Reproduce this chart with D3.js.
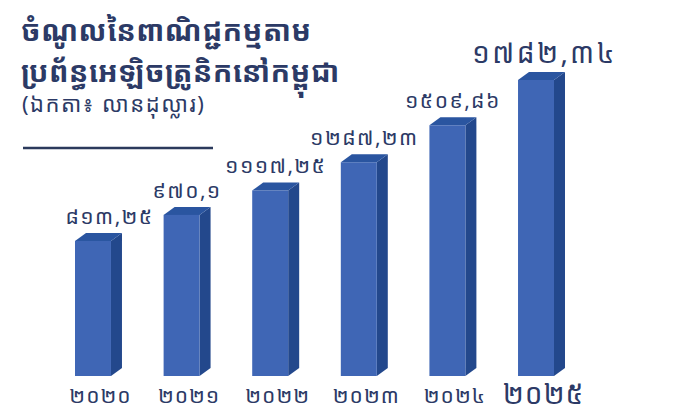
<!DOCTYPE html>
<html><head><meta charset="utf-8">
<script src="https://cdn.jsdelivr.net/npm/d3@7"></script>
<style>
html,body{margin:0;padding:0;background:#fff;}
svg{display:block;font-family:"Noto Sans Khmer","Khmer OS","Khmer OS System","Leelawadee UI",sans-serif;}
</style></head><body>
<svg id="c" width="686" height="412"></svg>
<script>
const years = ["២០២០","២០២១","២០២២","២០២៣","២០២៤","២០២៥"];
const values = [813.25, 970.1, 1117.25, 1287.23, 1509.86, 1782.34];
const valueLabels = ["៨១៣,២៥","៩៧០,១","១១១៧,២៥","១២៨៧,២៣","១៥០៩,៨៦","១៧៨២,៣៤"];
const titleLines = ["ចំណូលនៃពាណិជ្ជកម្មតាម","ប្រព័ន្ធអេឡិចត្រូនិកនៅកម្ពុជា"];
const unitLabel = "(ឯកតា៖ លានដុល្លារ)";

const svg = d3.select("#c");
const navy = "#2c3a66";
const x = d3.scaleBand().domain(years).range([75, 554]).paddingInner(0.594).paddingOuter(0);
const y = d3.scaleLinear().domain([0, 1782.34]).range([376, 80]);
const dx = 11, dy = 8;

const g = svg.append("g");
const bars = g.selectAll("g.bar").data(values).enter().append("g");
bars.append("path").attr("fill", "#23488c").attr("d", (d,i) => {
  const x0 = x(years[i]) + x.bandwidth(), yt = y(d), yb = y(0);
  return `M${x0},${yt}L${x0+dx},${yt-dy}L${x0+dx},${yb-dy}L${x0},${yb}Z`;
});
bars.append("path").attr("fill", "#2a55a0").attr("d", (d,i) => {
  const x0 = x(years[i]), x1 = x0 + x.bandwidth(), yt = y(d);
  return `M${x0},${yt}L${x0+dx},${yt-dy}L${x1+dx},${yt-dy}L${x1},${yt}Z`;
});
bars.append("rect").attr("fill", "#3f66b5")
  .attr("x", (d,i) => x(years[i])).attr("width", x.bandwidth())
  .attr("y", d => y(d)).attr("height", d => y(0) - y(d));

g.selectAll("text.val").data(values).enter().append("text")
  .attr("class","val")
  .attr("x", (d,i) => x(years[i]) + (x.bandwidth()+dx)/2 + (i===0?11:0) + (i===5?3:0))
  .attr("y", (d,i) => y(d) - dy - 9)
  .attr("text-anchor","middle").attr("fill", navy)
  .attr("font-size", (d,i) => i===5 ? 28 : 21)
  .attr("letter-spacing", (d,i) => i===5 ? 2.5 : 1.5)
  .text((d,i) => valueLabels[i]);

g.selectAll("text.yr").data(years).enter().append("text")
  .attr("x", d => x(d) + (x.bandwidth()+dx)/2 + 2)
  .attr("y", (d,i) => i===5 ? 404 : 403)
  .attr("text-anchor","middle").attr("fill", navy)
  .attr("font-size", (d,i) => i===5 ? 28 : 21)
  .attr("letter-spacing", 1)
  .text(d => d);

svg.append("text").attr("x", 21).attr("y", 41).attr("fill", navy)
  .attr("font-size", 29).attr("font-weight", "bold").attr("letter-spacing", 0.3).text(titleLines[0]);
svg.append("text").attr("x", 21).attr("y", 82).attr("fill", navy)
  .attr("font-size", 29).attr("font-weight", "bold").attr("letter-spacing", 0.3).text(titleLines[1]);
svg.append("text").attr("x", 22).attr("y", 112).attr("fill", navy)
  .attr("font-size", 22).attr("letter-spacing", 1.5).text(unitLabel);
svg.append("line").attr("x1", 23).attr("x2", 213).attr("y1", 148).attr("y2", 148)
  .attr("stroke", "#2b3a5c").attr("stroke-width", 2.5);
</script></body></html>
